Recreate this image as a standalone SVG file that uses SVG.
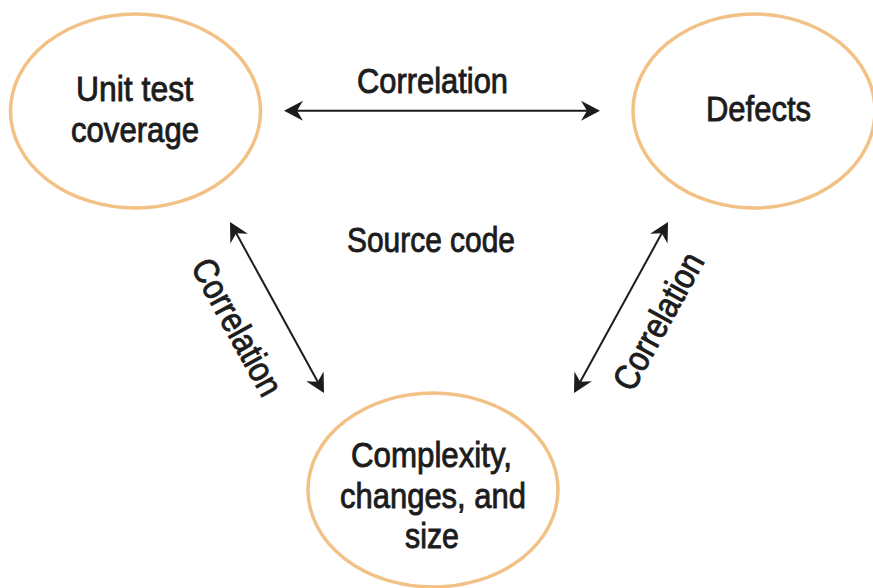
<svg xmlns="http://www.w3.org/2000/svg" width="873" height="588" viewBox="0 0 873 588">
  <style>
    .node { fill: #ffffff; stroke: #F2C186; stroke-width: 3.5; }
    .label { font-family: "Liberation Sans", Arial, sans-serif; font-size: 35.5px; fill: #1c1c1c; stroke: #1c1c1c; stroke-width: 0.9; text-anchor: middle; }
    .link { stroke: #1c1c1c; stroke-width: 2; fill: none; marker-start: url(#head); marker-end: url(#head); }
  </style>
  <defs>
    <marker id="head" markerUnits="userSpaceOnUse" markerWidth="24" markerHeight="24" refX="8" refY="0" orient="auto-start-reverse" overflow="visible">
      <path d="M19,0 L0,-10 L6,0 L0,10 Z" fill="#1c1c1c"/>
    </marker>
  </defs>

  <rect width="873" height="588" fill="#ffffff"/>

  <!-- connectors -->
  <g id="connectors">
    <line class="link" x1="295" y1="110.7" x2="589" y2="110.7"/>
    <line class="link" x1="235.3" y1="231.6" x2="318.7" y2="383.4"/>
    <line class="link" x1="662.7" y1="231.6" x2="579.3" y2="383.4"/>
    <text class="label" x="432.5" y="92.7" textLength="151" lengthAdjust="spacingAndGlyphs">Correlation</text>
    <text class="label" transform="translate(226.5,333) rotate(61.2)" x="0" y="0" textLength="151" lengthAdjust="spacingAndGlyphs">Correlation</text>
    <text class="label" transform="translate(669,327) rotate(-61.2)" x="0" y="0" textLength="151" lengthAdjust="spacingAndGlyphs">Correlation</text>
  </g>

  <g id="unit-test-coverage">
    <ellipse class="node" cx="135.5" cy="111" rx="125" ry="97"/>
    <text class="label" x="134.5" y="100.5" textLength="117" lengthAdjust="spacingAndGlyphs">Unit test</text>
    <text class="label" x="135" y="141.5" textLength="128" lengthAdjust="spacingAndGlyphs">coverage</text>
  </g>

  <g id="defects">
    <ellipse class="node" cx="754" cy="111" rx="121" ry="97"/>
    <text class="label" x="758.5" y="120.7" textLength="105" lengthAdjust="spacingAndGlyphs">Defects</text>
  </g>

  <g id="source-code">
    <text class="label" x="431" y="251.7" textLength="168" lengthAdjust="spacingAndGlyphs">Source code</text>
  </g>

  <g id="complexity-changes-size">
    <ellipse class="node" cx="433" cy="490" rx="125" ry="97"/>
    <text class="label" x="431.5" y="467" textLength="161" lengthAdjust="spacingAndGlyphs">Complexity,</text>
    <text class="label" x="433" y="508" textLength="186" lengthAdjust="spacingAndGlyphs">changes, and</text>
    <text class="label" x="432" y="548" textLength="54" lengthAdjust="spacingAndGlyphs">size</text>
  </g>
</svg>
